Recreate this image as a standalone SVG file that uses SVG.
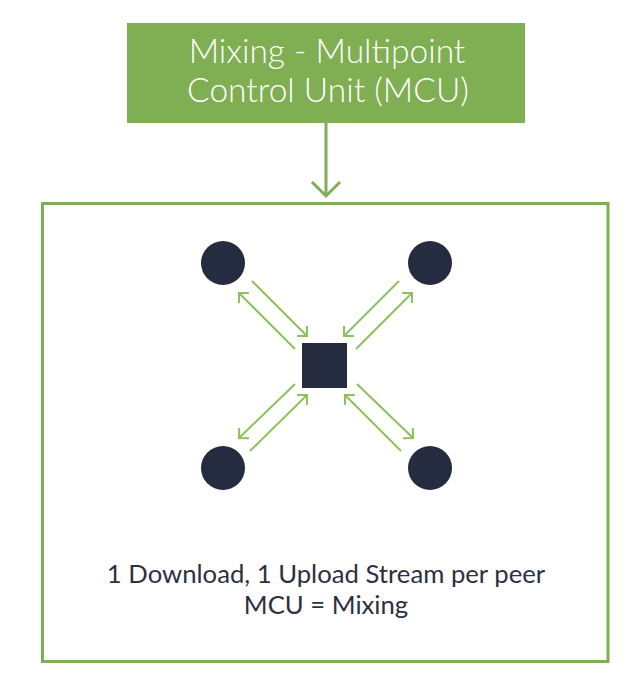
<svg xmlns="http://www.w3.org/2000/svg" width="644" height="694" viewBox="0 0 644 694">
<style>
.title{font-family:Lato,"Open Sans","Liberation Sans",sans-serif;font-size:33.5px;font-weight:300;fill:#ffffff;text-anchor:middle}
.caption{font-family:Lato,"Open Sans","Liberation Sans",sans-serif;font-size:25.7px;fill:#2b3042;text-anchor:middle}
.node{fill:#262c40}
.link{stroke:#8cc15c;stroke-width:2;fill:none;marker-end:url(#head)}
</style>
<defs>
<marker id="head" markerUnits="userSpaceOnUse" markerWidth="20" markerHeight="20" refX="0" refY="0" viewBox="-10 -10 20 20" orient="auto" overflow="visible">
<path d="M-7,-7 L0,0 L-7,7" fill="none" stroke="#8cc15c" stroke-width="2"/>
</marker>
</defs>
<rect width="644" height="694" fill="#ffffff"/>
<g id="mcu-title">
<rect x="127" y="23" width="398" height="100" fill="#7fae53"/>
<text class="title" x="327" y="63">Mixing - Multipoint</text>
<text class="title" x="328" y="102">Control Unit (MCU)</text>
</g>
<g id="frame">
<rect x="42.5" y="203.5" width="565.5" height="458" fill="none" stroke="#7fae53" stroke-width="3"/>
</g>
<g id="peer-tl"><circle class="node" cx="223" cy="263" r="22"/></g>
<g id="peer-tr"><circle class="node" cx="430" cy="263" r="22"/></g>
<g id="peer-bl"><circle class="node" cx="223" cy="468" r="22"/></g>
<g id="peer-br"><circle class="node" cx="430" cy="468" r="22"/></g>
<g id="mcu"><rect class="node" x="302" y="343" width="45" height="45"/></g>
<g id="connectors">
<path d="M326,123 V196" stroke="#7fae53" stroke-width="3" fill="none"/>
<path d="M312,182 L326,196 L340,182" stroke="#7fae53" stroke-width="3" fill="none"/>
<path class="link" d="M252,281 L307,336"/>
<path class="link" d="M295,349 L239,293"/>
<path class="link" d="M399,281 L344,336"/>
<path class="link" d="M356,349 L412,293"/>
<path class="link" d="M295,384 L239,438"/>
<path class="link" d="M250,451 L307,395"/>
<path class="link" d="M357,384 L413,438"/>
<path class="link" d="M401,451 L345,395"/>
</g>
<g id="caption">
<text class="caption" x="326" y="583">1 Download, 1 Upload Stream per peer</text>
<text class="caption" x="326" y="614">MCU = Mixing</text>
</g>
</svg>
